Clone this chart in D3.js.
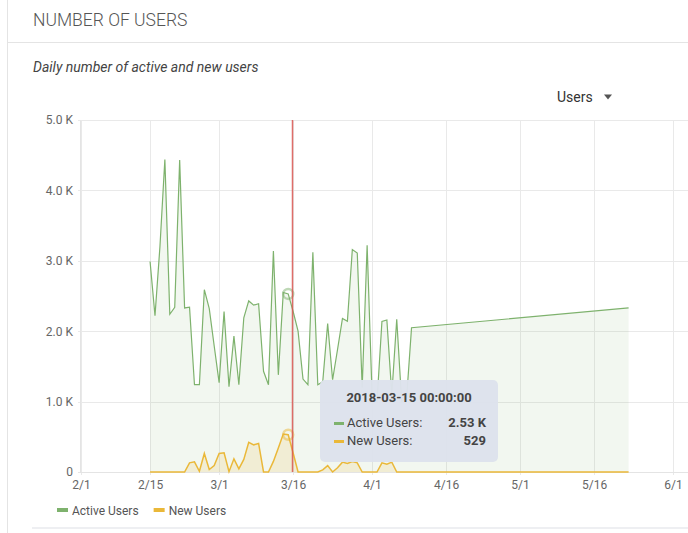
<!DOCTYPE html>
<html>
<head>
<meta charset="utf-8">
<script src="https://cdn.jsdelivr.net/npm/d3@7"></script>
<style>
  html, body { margin: 0; padding: 0; background: #fff; }
  svg { display: block; font-family: Roboto, "Noto Sans", sans-serif; }
</style>
</head>
<body>
<svg id="chart" width="688" height="533"></svg>
<script>
// ---- data ----
const dates = [
  "2018-02-15","2018-02-16","2018-02-17","2018-02-18","2018-02-19","2018-02-20","2018-02-21",
  "2018-02-22","2018-02-23","2018-02-24","2018-02-25","2018-02-26","2018-02-27","2018-02-28",
  "2018-03-01","2018-03-02","2018-03-03","2018-03-04","2018-03-05","2018-03-06","2018-03-07",
  "2018-03-08","2018-03-09","2018-03-10","2018-03-11","2018-03-12","2018-03-13","2018-03-14",
  "2018-03-15","2018-03-16","2018-03-17","2018-03-18","2018-03-19","2018-03-20","2018-03-21",
  "2018-03-22","2018-03-23","2018-03-24","2018-03-25","2018-03-26","2018-03-27","2018-03-28",
  "2018-03-29","2018-03-30","2018-03-31","2018-04-01","2018-04-02","2018-04-03","2018-04-04",
  "2018-04-05","2018-04-06","2018-04-07","2018-04-08","2018-04-09","2018-05-23"
];
const activeUsers = [
  2990, 2220, 3200, 4440, 2240, 2340, 4430,
  2330, 2340, 1240, 1240, 2590, 2320, 1790,
  1270, 2280, 1210, 1930, 1240, 2190, 2430,
  2370, 2390, 1430, 1240, 3140, 1380, 2550,
  2530, 2280, 2000, 1320, 1240, 3120, 1240,
  1280, 2110, 1310, 1740, 2180, 2140, 3160,
  3110, 1200, 3220, 1100, 1000, 2140, 2160,
  1100, 2170, 1000, 1050, 2050, 2330
];
const newUsers = [
  0, 0, 0, 0, 0, 0, 0,
  0, 130, 145, 10, 263, 35, 92,
  263, 272, 5, 187, 45, 178, 423,
  386, 405, 0, 0, 150, 340, 540,
  529, 270, 0, 0, 0, 0, 0,
  30, 90, 0, 60, 140, 120, 150,
  130, 0, 0, 0, 0, 130, 110,
  140, 0, 0, 0, 0, 0
];
const seriesNames = ["Active Users", "New Users"];
const seriesColors = ["#7eb26d", "#eab839"];
const xTickDates = ["2018-02-01","2018-02-15","2018-03-01","2018-03-16","2018-04-01","2018-04-16","2018-05-01","2018-05-16","2018-06-01"];
const yTickValues = [0, 1000, 2000, 3000, 4000, 5000];
const hoverDate = "2018-03-15";
const cursorDate = "2018-03-15T17:00:00Z";

// ---- setup ----
const parse = d3.utcParse("%Y-%m-%d");
const W = 688, H = 533;
const svg = d3.select("#chart");
svg.append("rect").attr("width", W).attr("height", H).attr("fill", "#fff");

// card frame
svg.append("line").attr("x1", 7.5).attr("x2", 7.5).attr("y1", 0).attr("y2", H).attr("stroke", "#e4e4e4");
svg.append("line").attr("x1", 7).attr("x2", W).attr("y1", 42.5).attr("y2", 42.5).attr("stroke", "#e4e4e4");
svg.append("line").attr("x1", 32).attr("x2", W).attr("y1", 528).attr("y2", 528).attr("stroke", "#eeeff2").attr("stroke-width", 2);

svg.append("text").attr("x", 33).attr("y", 26).attr("font-size", 17.5).attr("font-weight", 300)
  .attr("fill", "#555").text("NUMBER OF USERS");
svg.append("text").attr("x", 33).attr("y", 72).attr("font-size", 14).attr("font-style", "italic")
  .attr("fill", "#444").text("Daily number of active and new users");
svg.append("text").attr("x", 557).attr("y", 102).attr("font-size", 14).attr("fill", "#333").text("Users");
svg.append("path").attr("d", "M604,94.5 L612,94.5 L608,99.5 Z").attr("fill", "#555");

const x = d3.scaleUtc().domain([parse("2018-02-01"), parse("2018-06-01")]).range([81, 673]);
const y = d3.scaleLinear().domain([0, 5000]).range([472, 120]);

const data = dates.map((d, i) => ({ date: parse(d), a: activeUsers[i], n: newUsers[i] }));

// grid
const g = svg.append("g");
g.selectAll(".hg").data(yTickValues).join("line")
  .attr("x1", 78).attr("x2", W).attr("y1", d => Math.round(y(d)) + 0.5).attr("y2", d => Math.round(y(d)) + 0.5)
  .attr("stroke", "#e9e9e9");
g.selectAll(".vg").data(xTickDates.map(parse)).join("line")
  .attr("x1", d => Math.round(x(d)) + 0.5).attr("x2", d => Math.round(x(d)) + 0.5)
  .attr("y1", 120).attr("y2", 475).attr("stroke", "#e9e9e9");

// axes
const yAxis = d3.axisLeft(y).tickValues(yTickValues).tickSize(0).tickPadding(7)
  .tickFormat(d => d === 0 ? "0" : d3.format(".1f")(d / 1000) + " K");
const ya = svg.append("g").attr("transform", "translate(80,0)").call(yAxis);
ya.select(".domain").attr("stroke", "#e4e4e4");
ya.selectAll("text").attr("font-size", 12).attr("fill", "#666").attr("font-family", "Roboto, sans-serif");

const xAxis = d3.axisBottom(x).tickValues(xTickDates.map(parse)).tickSize(0).tickPadding(8)
  .tickFormat(d3.utcFormat("%-m/%-d"));
const xa = svg.append("g").attr("transform", "translate(0,472)").call(xAxis);
xa.select(".domain").attr("stroke", "#e4e4e4").attr("d", "M78,0.5H" + W);
xa.selectAll("text").attr("font-size", 12).attr("fill", "#666").attr("font-family", "Roboto, sans-serif");

// areas + lines
const areaA = d3.area().x(d => x(d.date)).y0(y(0)).y1(d => y(d.a));
const lineA = d3.line().x(d => x(d.date)).y(d => y(d.a));
const areaN = d3.area().x(d => x(d.date)).y0(y(0)).y1(d => y(d.n));
const lineN = d3.line().x(d => x(d.date)).y(d => y(d.n));

svg.append("path").datum(data).attr("d", areaA).attr("fill", seriesColors[0]).attr("fill-opacity", 0.1);
svg.append("path").datum(data).attr("d", areaN).attr("fill", seriesColors[1]).attr("fill-opacity", 0.15);
svg.append("path").datum(data).attr("d", lineA).attr("fill", "none").attr("stroke", seriesColors[0]).attr("stroke-width", 1.2);
svg.append("path").datum(data).attr("d", lineN).attr("fill", "none").attr("stroke", seriesColors[1]).attr("stroke-width", 1.5);

// hover markers
const hp = data.find(d => +d.date === +parse(hoverDate));
svg.append("circle").attr("cx", x(hp.date)).attr("cy", y(hp.a)).attr("r", 5)
  .attr("fill", "none").attr("stroke", seriesColors[0]).attr("stroke-width", 2.5).attr("stroke-opacity", 0.5);
svg.append("circle").attr("cx", x(hp.date)).attr("cy", y(hp.n)).attr("r", 5)
  .attr("fill", "none").attr("stroke", seriesColors[1]).attr("stroke-width", 2.5).attr("stroke-opacity", 0.5);

// cursor line
const cx = Math.round(x(new Date(cursorDate))) + 0.5;
svg.append("line").attr("x1", cx).attr("x2", cx).attr("y1", 120).attr("y2", 472)
  .attr("stroke", "#d9534f").attr("stroke-width", 1.5).attr("stroke-opacity", 0.85);

// tooltip
const tt = svg.append("g").attr("transform", "translate(320,380)");
tt.append("rect").attr("width", 178).attr("height", 82).attr("rx", 5).attr("fill", "#dde2ec").attr("fill-opacity", 0.97);
tt.append("text").attr("x", 89).attr("y", 22).attr("text-anchor", "middle").attr("font-size", 13)
  .attr("font-weight", 700).attr("fill", "#444").text(hoverDate + " 00:00:00");
const rows = [
  { name: seriesNames[0], color: seriesColors[0], val: d3.format(".2f")(hp.a / 1000) + " K" },
  { name: seriesNames[1], color: seriesColors[1], val: String(hp.n) }
];
rows.forEach((r, i) => {
  const yy = 47 + i * 18;
  tt.append("rect").attr("x", 14).attr("y", yy - 5).attr("width", 10).attr("height", 3).attr("fill", r.color);
  tt.append("text").attr("x", 27).attr("y", yy).attr("font-size", 13).attr("fill", "#444").text(r.name + ":");
  tt.append("text").attr("x", 166).attr("y", yy).attr("text-anchor", "end").attr("font-size", 13)
    .attr("font-weight", 700).attr("fill", "#444").text(r.val);
});

// legend
const lg = svg.append("g").attr("transform", "translate(57,511)");
let lx = 0;
seriesNames.forEach((n, i) => {
  lg.append("rect").attr("x", lx).attr("y", -3).attr("width", 11).attr("height", 4).attr("fill", seriesColors[i]);
  const t = lg.append("text").attr("x", lx + 15).attr("y", 3.5).attr("font-size", 12).attr("fill", "#555").text(n);
  lx += 15 + t.node().getComputedTextLength() + 15;
});
</script>
</body>
</html>
